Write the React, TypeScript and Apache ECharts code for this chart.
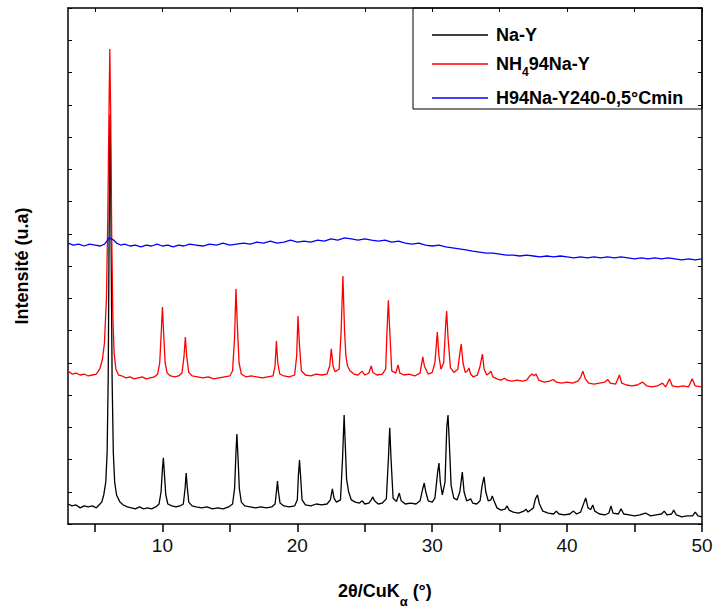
import React, { useEffect, useRef } from "react";
import * as echarts from "echarts";

const seriesNames = ["Na-Y", "NH494Na-Y", "H94Na-Y240-0,5°Cmin"];
const xTickValues = [5, 10, 15, 20, 25, 30, 35, 40, 45, 50];
const xLabelValues = [10, 20, 30, 40, 50];

// Na-Y (black)
const naY: [number, number][] = [
  [3.0, 62], [3.3, 56], [3.6, 59], [3.9, 50], [4.2, 56], [4.5, 53], [4.8, 56], [5.1, 50], [5.3, 59], [5.5, 68],
  [5.65, 90], [5.8, 130], [5.9, 220], [5.98, 450], [6.04, 850], [6.09, 1150], [6.12, 1270], [6.15, 1150], [6.2, 850], [6.27, 450],
  [6.36, 220], [6.46, 130], [6.6, 90], [6.85, 68], [7.1, 59], [7.4, 53], [7.7, 50], [8.0, 47], [8.3, 53], [8.6, 47],
  [8.9, 50], [9.2, 47], [9.5, 53], [9.75, 62], [9.9, 100], [10.0, 170], [10.07, 205], [10.14, 160], [10.25, 90], [10.4, 62],
  [10.7, 56], [11.0, 53], [11.3, 56], [11.55, 62], [11.68, 110], [11.76, 158], [11.84, 115], [11.95, 68], [12.2, 56], [12.5, 53],
  [12.9, 50], [13.3, 53], [13.7, 47], [14.1, 50], [14.5, 47], [14.9, 53], [15.2, 62], [15.35, 110], [15.45, 220], [15.52, 279],
  [15.6, 210], [15.7, 110], [15.85, 68], [16.1, 56], [16.5, 53], [16.9, 50], [17.3, 53], [17.7, 50], [18.1, 53], [18.35, 62],
  [18.45, 100], [18.53, 133], [18.6, 100], [18.72, 65], [19.0, 56], [19.4, 53], [19.8, 56], [20.0, 75], [20.08, 150], [20.16, 198],
  [20.24, 150], [20.35, 75], [20.6, 59], [21.0, 56], [21.4, 62], [21.8, 59], [22.2, 62], [22.45, 75], [22.6, 109], [22.72, 80],
  [22.9, 68], [23.2, 75], [23.35, 200], [23.47, 338], [23.56, 240], [23.65, 140], [23.8, 100], [24.0, 75], [24.3, 68], [24.6, 65],
  [24.82, 72], [25.0, 62], [25.3, 65], [25.48, 75], [25.6, 84], [25.72, 72], [26.0, 62], [26.3, 65], [26.6, 78], [26.75, 200],
  [26.85, 298], [26.95, 200], [27.1, 80], [27.35, 70], [27.56, 96], [27.7, 72], [28.0, 62], [28.4, 65], [28.8, 62], [29.1, 72],
  [29.3, 110], [29.41, 127], [29.52, 100], [29.7, 72], [30.0, 68], [30.2, 80], [30.4, 160], [30.5, 189], [30.6, 130], [30.75, 90],
  [30.95, 130], [31.08, 300], [31.17, 338], [31.27, 250], [31.4, 120], [31.6, 80], [31.85, 75], [32.05, 100], [32.23, 161], [32.36, 100],
  [32.55, 72], [32.72, 75], [32.85, 78], [33.0, 65], [33.3, 62], [33.55, 72], [33.7, 120], [33.84, 146], [33.97, 100], [34.15, 72],
  [34.35, 75], [34.45, 87], [34.58, 72], [34.8, 50], [35.1, 43], [35.4, 46], [35.55, 56], [35.7, 43], [36.0, 37], [36.4, 34],
  [36.8, 40], [36.95, 46], [37.1, 37], [37.5, 50], [37.65, 78], [37.8, 90], [37.95, 62], [38.2, 40], [38.6, 34], [39.0, 31],
  [39.2, 40], [39.4, 31], [39.8, 28], [40.2, 31], [40.47, 40], [40.7, 31], [41.0, 37], [41.2, 60], [41.38, 81], [41.55, 50],
  [41.75, 45], [41.9, 59], [42.05, 40], [42.4, 31], [42.8, 28], [43.1, 34], [43.25, 56], [43.4, 34], [43.8, 31], [44.0, 47],
  [44.2, 31], [44.6, 28], [45.0, 25], [45.4, 28], [45.8, 34], [46.2, 25], [46.6, 28], [47.0, 31], [47.2, 40], [47.4, 28],
  [47.75, 31], [47.9, 43], [48.1, 28], [48.5, 22], [48.9, 25], [49.3, 25], [49.5, 37], [49.7, 25], [50.0, 22],
];

// NH4 94Na-Y (red)
const nh4NaY: [number, number][] = [
  [3.0, 474], [3.3, 465], [3.6, 468], [3.9, 462], [4.2, 465], [4.5, 459], [4.8, 462], [5.1, 465], [5.35, 480], [5.55, 510],
  [5.7, 560], [5.85, 700], [5.95, 950], [6.03, 1250], [6.1, 1473], [6.17, 1250], [6.24, 900], [6.32, 650], [6.42, 530], [6.55, 480],
  [6.75, 462], [7.0, 459], [7.3, 453], [7.6, 456], [7.9, 450], [8.2, 453], [8.5, 456], [8.8, 450], [9.1, 453], [9.4, 456],
  [9.65, 465], [9.8, 500], [9.92, 600], [10.0, 673], [10.08, 600], [10.2, 500], [10.35, 468], [10.6, 459], [10.9, 456], [11.2, 459],
  [11.45, 468], [11.6, 520], [11.7, 580], [11.8, 520], [11.95, 470], [12.2, 459], [12.6, 456], [13.0, 453], [13.4, 456], [13.8, 450],
  [14.2, 453], [14.6, 456], [15.0, 459], [15.2, 475], [15.35, 580], [15.45, 729], [15.55, 620], [15.68, 500], [15.85, 465], [16.2, 456],
  [16.6, 459], [17.0, 456], [17.4, 453], [17.8, 456], [18.2, 459], [18.35, 490], [18.45, 567], [18.55, 500], [18.7, 465], [19.0, 459],
  [19.4, 456], [19.8, 462], [19.95, 520], [20.05, 645], [20.15, 560], [20.3, 475], [20.6, 462], [21.0, 459], [21.4, 465], [21.8, 462],
  [22.2, 465], [22.4, 490], [22.52, 543], [22.65, 490], [22.8, 472], [23.1, 480], [23.25, 600], [23.38, 769], [23.5, 600], [23.6, 521],
  [23.72, 490], [23.9, 475], [24.2, 465], [24.5, 462], [24.8, 474], [25.0, 462], [25.3, 468], [25.48, 490], [25.6, 470], [25.9, 462],
  [26.3, 465], [26.55, 480], [26.65, 600], [26.75, 694], [26.85, 600], [27.0, 475], [27.3, 468], [27.47, 493], [27.6, 468], [27.9, 462],
  [28.3, 465], [28.7, 459], [29.1, 468], [29.3, 518], [29.42, 490], [29.7, 465], [30.0, 470], [30.2, 500], [30.38, 595], [30.5, 520],
  [30.65, 480], [30.85, 500], [31.0, 620], [31.07, 660], [31.17, 580], [31.35, 485], [31.6, 470], [31.9, 480], [32.05, 530], [32.15, 558],
  [32.28, 500], [32.45, 470], [32.62, 475], [32.72, 484], [32.85, 465], [33.05, 456], [33.35, 462], [33.55, 490], [33.72, 527], [33.85, 480],
  [34.05, 462], [34.25, 468], [34.35, 474], [34.5, 456], [34.8, 450], [35.1, 446], [35.36, 452], [35.55, 446], [35.9, 443], [36.3, 446],
  [36.7, 443], [37.0, 446], [37.25, 460], [37.4, 465], [37.55, 460], [37.7, 465], [37.9, 446], [38.3, 440], [38.7, 443], [38.97, 448],
  [39.2, 440], [39.6, 437], [40.0, 440], [40.4, 437], [40.8, 443], [41.0, 455], [41.17, 474], [41.35, 450], [41.6, 437], [42.0, 434],
  [42.4, 437], [42.8, 440], [43.02, 448], [43.2, 437], [43.6, 434], [43.88, 462], [44.05, 437], [44.4, 431], [44.8, 428], [45.2, 431],
  [45.6, 440], [45.9, 428], [46.3, 425], [46.7, 428], [47.07, 437], [47.3, 425], [47.6, 450], [47.8, 428], [48.2, 425], [48.6, 428],
  [49.0, 425], [49.27, 450], [49.5, 428], [50.0, 425],
];

// H94Na-Y240-0,5°Cmin (blue)
const h94NaY: [number, number][] = [
  [3.0, 871], [3.4, 865], [3.8, 868], [4.2, 862], [4.6, 868], [5.0, 865], [5.4, 862], [5.7, 868], [5.9, 878], [6.05, 887],
  [6.2, 884], [6.4, 880], [6.6, 871], [6.9, 865], [7.2, 868], [7.6, 862], [8.0, 865], [8.4, 859], [8.8, 865], [9.2, 862],
  [9.6, 868], [10.0, 862], [10.4, 865], [10.8, 859], [11.2, 865], [11.6, 862], [12.0, 868], [12.5, 865], [13.0, 862], [13.5, 868],
  [14.0, 865], [14.5, 871], [15.0, 865], [15.5, 868], [16.0, 871], [16.5, 868], [17.0, 874], [17.5, 871], [18.0, 877], [18.5, 871],
  [19.0, 874], [19.5, 880], [20.0, 874], [20.5, 877], [21.0, 874], [21.5, 880], [22.0, 877], [22.5, 884], [23.0, 880], [23.5, 887],
  [24.0, 884], [24.5, 880], [25.0, 884], [25.5, 880], [26.0, 877], [26.5, 880], [27.0, 874], [27.5, 877], [28.0, 871], [28.5, 868],
  [29.0, 871], [29.5, 865], [30.0, 862], [30.5, 865], [31.0, 859], [31.5, 856], [32.0, 853], [32.5, 850], [33.0, 846], [33.5, 843],
  [34.0, 840], [34.5, 840], [35.0, 837], [35.5, 834], [36.0, 834], [36.5, 831], [37.0, 834], [37.5, 831], [38.0, 828], [38.5, 831],
  [39.0, 828], [39.5, 831], [40.0, 828], [40.5, 825], [41.0, 828], [41.5, 825], [42.0, 828], [42.5, 825], [43.0, 828], [43.5, 825],
  [44.0, 828], [44.5, 825], [45.0, 822], [45.5, 825], [46.0, 822], [46.5, 825], [47.0, 822], [47.5, 825], [48.0, 822], [48.5, 819],
  [49.0, 822], [49.5, 819], [50.0, 822],
];

const FONT = "'Liberation Sans', Arial, Helvetica, sans-serif";

export default function App() {
  const ref = useRef<HTMLDivElement>(null);
  useEffect(() => {
    if (!ref.current) return;
    const chart = echarts.init(ref.current, undefined, { renderer: "svg" });
    const legendRich = {
      b: { fontFamily: FONT, fontSize: 18, fontWeight: "bold", color: "#000", lineHeight: 28, verticalAlign: "middle" },
      s: { fontFamily: FONT, fontSize: 12, fontWeight: "bold", color: "#000", lineHeight: 12, verticalAlign: "bottom" },
    };
    const axisLine = { show: true, onZero: false, lineStyle: { color: "#000", width: 1.5 } };
    chart.setOption({
      animation: false,
      backgroundColor: "#fff",
      grid: { left: 68, right: 11, top: 8, bottom: 84, containLabel: false, outerBoundsMode: "none" },
      legend: {
        orient: "vertical",
        left: 432,
        top: 26,
        padding: 0,
        icon: "rect",
        itemWidth: 56,
        itemHeight: 1.4,
        itemGap: 11,
        selectedMode: false,
        data: seriesNames,
        formatter: (name: string) =>
          name === "NH494Na-Y" ? "{b|NH}{s|4}{b|94Na-Y}" : "{b|" + name + "}",
        textStyle: { rich: legendRich, padding: [0, 0, 0, 3] },
      },
      graphic: [
        {
          type: "rect",
          z: 100,
          shape: { x: 413, y: 8, width: 289, height: 101 },
          style: { fill: "none", stroke: "#000", lineWidth: 1 },
        },
      ],
      xAxis: [
        {
          type: "value",
          position: "bottom",
          min: 3,
          max: 50,
          axisLine,
          axisTick: { show: true, inside: false, length: 8, customValues: xTickValues, lineStyle: { color: "#000", width: 1.5 } },
          axisLabel: { show: true, customValues: xLabelValues, margin: 12, fontSize: 19, fontFamily: FONT, color: "#111" },
          splitLine: { show: false },
          name: "{b|2θ/CuK}{s|α}{b| (°)}{t| }",
          nameLocation: "middle",
          nameGap: 50,
          nameTextStyle: {
            rich: {
              b: { fontFamily: FONT, fontSize: 18, fontWeight: "bold", color: "#000", lineHeight: 20, verticalAlign: "middle" },
              s: { fontFamily: FONT, fontSize: 13, fontWeight: "bold", color: "#000", lineHeight: 13, verticalAlign: "bottom" },
              t: { fontFamily: FONT, fontSize: 1, color: "#fff", lineHeight: 34, verticalAlign: "middle" },
            },
          },
        },
        {
          type: "value",
          position: "top",
          min: 3,
          max: 50,
          axisLine,
          axisTick: { show: true, inside: true, length: 4, customValues: xTickValues, lineStyle: { color: "#000", width: 1 } },
          axisLabel: { show: false },
          splitLine: { show: false },
        },
      ],
      yAxis: [
        {
          type: "value",
          position: "left",
          min: 0,
          max: 1600,
          interval: 100,
          axisLine,
          axisTick: { show: true, inside: true, length: 4, lineStyle: { color: "#000", width: 1 } },
          axisLabel: { show: false },
          splitLine: { show: false },
          name: "Intensité (u.a)",
          nameLocation: "middle",
          nameRotate: 90,
          nameGap: 37,
          nameTextStyle: { fontFamily: FONT, fontSize: 18, fontWeight: "bold", color: "#000" },
        },
        {
          type: "value",
          position: "right",
          min: 0,
          max: 1600,
          interval: 100,
          axisLine,
          axisTick: { show: true, inside: true, length: 4, lineStyle: { color: "#000", width: 1 } },
          axisLabel: { show: false },
          splitLine: { show: false },
        },
      ],
      series: [
        { name: seriesNames[0], type: "line", data: naY, symbol: "none", color: "#000000", lineStyle: { color: "#000000", width: 1.3 }, z: 2 },
        { name: seriesNames[1], type: "line", data: nh4NaY, symbol: "none", color: "#ff0000", lineStyle: { color: "#ff0000", width: 1.3 }, z: 3 },
        { name: seriesNames[2], type: "line", data: h94NaY, symbol: "none", color: "#0000ff", lineStyle: { color: "#0000ff", width: 1.3 }, z: 4 },
      ],
    });
    return () => chart.dispose();
  }, []);
  return (
    <div
      ref={ref}
      style={{ position: "fixed", left: 0, top: 0, width: 713, height: 608, background: "#fff" }}
    />
  );
}
